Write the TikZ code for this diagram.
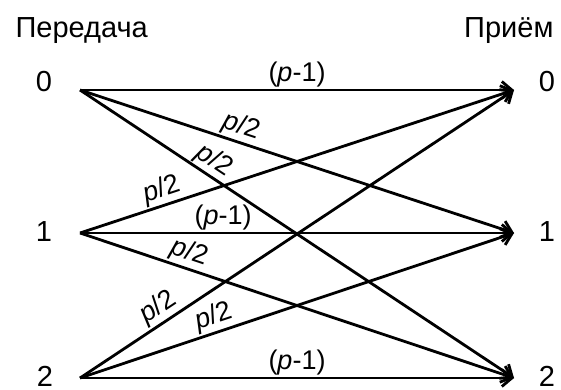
\documentclass[tikz,border=0pt]{standalone}
\usepackage{fontspec}
\setmainfont{Liberation Sans}
\usetikzlibrary{arrows.meta}

\begin{document}
\begin{tikzpicture}[x=1pt, y=-1pt,
    every node/.style={font=\fontsize{29}{32}\selectfont},
    digit/.style={inner sep=0pt},
    prob/.style={font=\fontsize{27}{30}\selectfont, inner sep=1.5pt},
    arrow/.style={-{Straight Barb[length=10pt,width=17pt]}, line width=2.8pt}]

    \useasboundingbox (0,0) rectangle (561,389);

    % end points of the channel
    \coordinate (t0) at (80,90);
    \coordinate (t1) at (80,233);
    \coordinate (t2) at (80,378);
    \coordinate (r0) at (514,90);
    \coordinate (r1) at (514,233);
    \coordinate (r2) at (514,378);

    \node[anchor=base west] (send) at (12,37) {Передача};
    \node[anchor=base east] (recv) at (557,37) {Приём};

    \node[digit] (s0) at (44,82) {0};
    \node[digit] (s1) at (44,232) {1};
    \node[digit] (s2) at (45,376) {2};
    \node[digit] (d0) at (547,82) {0};
    \node[digit] (d1) at (547,232) {1};
    \node[digit] (d2) at (547,376) {2};

    \draw[arrow] (t0) -- node[prob, above] {(\textit{p}-1)} (r0);
    \draw[arrow] (t0) -- node[prob, sloped, above, pos=0.36] {\textit{p}/2} (r1);
    \draw[arrow] (t0) -- node[prob, sloped, above, pos=0.29] {\textit{p}/2} (r2);

    \draw[arrow] (t1) -- node[prob, sloped, above, pos=0.2] {\textit{p}/2} (r0);
    \draw[arrow] (t1) -- node[prob, above, pos=0.33] {(\textit{p}-1)} (r1);
    \draw[arrow] (t1) -- node[prob, sloped, above, pos=0.24] {\textit{p}/2} (r2);

    \draw[arrow] (t2) -- node[prob, sloped, above, pos=0.2] {\textit{p}/2} (r0);
    \draw[arrow] (t2) -- node[prob, sloped, above, pos=0.32] {\textit{p}/2} (r1);
    \draw[arrow] (t2) -- node[prob, above] {(\textit{p}-1)} (r2);
\end{tikzpicture}
\end{document}
